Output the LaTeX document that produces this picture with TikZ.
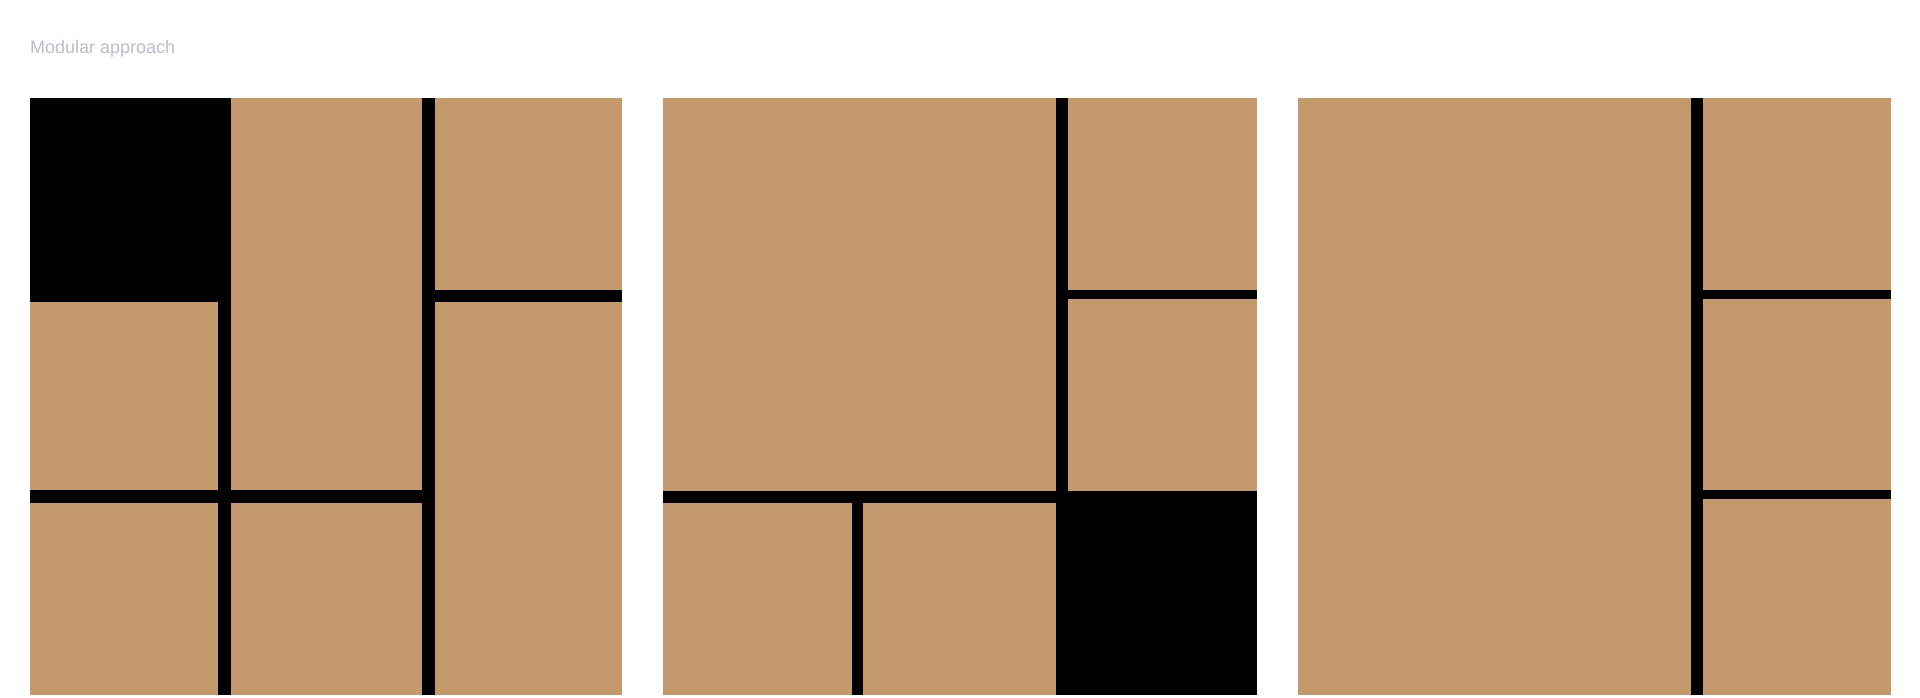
\documentclass[tikz,border=0pt]{standalone}
\usepackage{fontspec}
\setmainfont{Liberation Sans}
\definecolor{beige}{RGB}{196,154,108}
\definecolor{titlegray}{RGB}{185,190,210}
\tikzset{
  cell/.style={fill=beige},
  frame/.style={fill=black},
  titletext/.style={anchor=base west, inner sep=0pt, text=titlegray, font=\fontsize{18}{22}\selectfont}
}
\begin{document}
\begin{tikzpicture}[x=1pt,y=-1pt]
\useasboundingbox[fill=white] (0,0) rectangle (1920,698);
\node[titletext] (title) at (30,54) {Modular approach};

% Panel 1
\fill[frame] (29.8,98) rectangle (622.4,694.5);
\fill[cell] (29.8,302.3) rectangle (218.4,490.3);
\fill[cell] (29.8,503) rectangle (218.4,694.5);
\fill[cell] (230.6,98) rectangle (422.4,490.3);
\fill[cell] (230.6,503) rectangle (422.4,694.5);
\fill[cell] (434.7,98) rectangle (622.4,290);
\fill[cell] (434.7,302.3) rectangle (622.4,694.5);

% Panel 2
\fill[frame] (662.8,98) rectangle (1256.5,694.7);
\fill[cell] (662.8,98) rectangle (1056.3,491);
\fill[cell] (1068.2,98) rectangle (1256.5,290);
\fill[cell] (1068.2,298.5) rectangle (1256.5,491);
\fill[cell] (662.8,503) rectangle (851.6,694.7);
\fill[cell] (863.4,503) rectangle (1056.3,694.7);

% Panel 3
\fill[frame] (1298,98) rectangle (1891,694.5);
\fill[cell] (1298,98) rectangle (1690.5,694.5);
\fill[cell] (1702.8,98) rectangle (1891,290);
\fill[cell] (1702.8,298.5) rectangle (1891,490);
\fill[cell] (1702.8,499) rectangle (1891,694.5);
\end{tikzpicture}
\end{document}
